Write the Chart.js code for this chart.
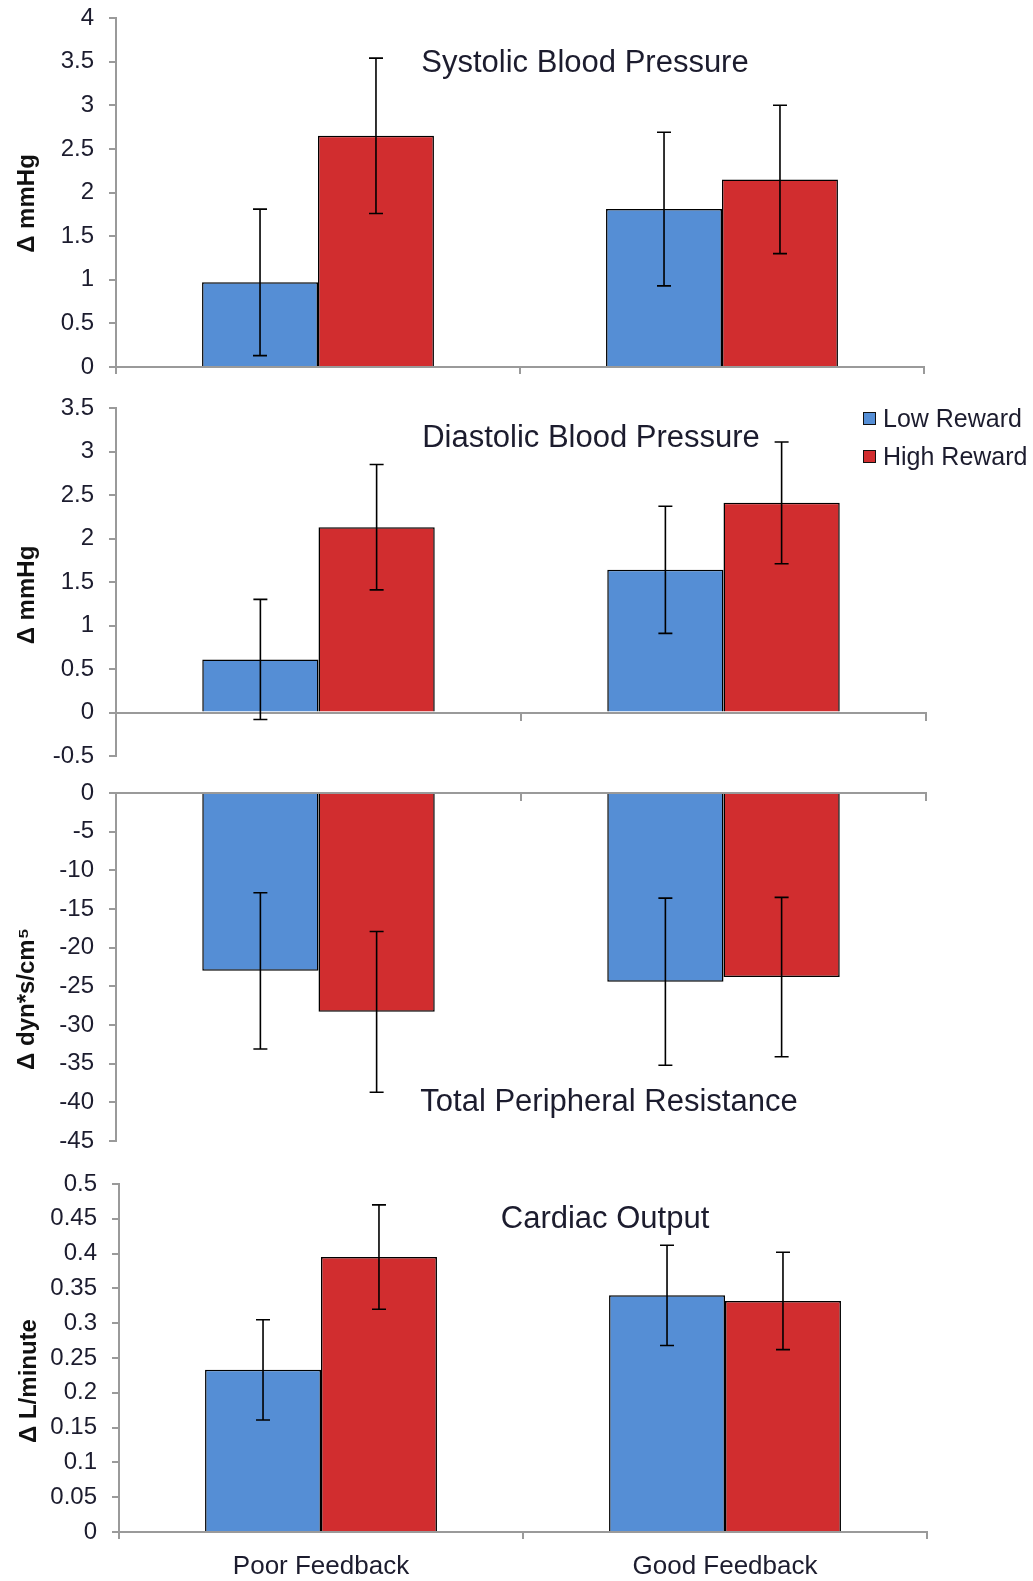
<!DOCTYPE html>
<html lang="en">
<head>
<meta charset="UTF-8" />
<title>Cardiovascular reactivity by feedback and reward</title>
<script src="https://cdn.jsdelivr.net/npm/chart.js"></script>
<style>
  body { margin: 0; background: #fff; font-family: Arial, "Liberation Sans", sans-serif; }
  #page { position: relative; width: 1033px; height: 1581px; overflow: hidden; }
  canvas.panel { position: absolute; left: 0; }
  #legend { position: absolute; left: 863px; top: 399px; font-size: 25px; color: #1c1c2e; }
  #legend .item { display: flex; align-items: center; height: 38px; }
  #legend .swatch { width: 11px; height: 11px; border: 1.5px solid #111; margin-right: 7px; }
</style>
</head>
<body>
<div id="page">
  <canvas class="panel" id="sbp"></canvas>
  <canvas class="panel" id="dbp"></canvas>
  <canvas class="panel" id="tpr"></canvas>
  <canvas class="panel" id="co"></canvas>
  <div id="legend">
    <div class="item"><span class="swatch" style="background:#558ed5"></span>Low Reward</div>
    <div class="item"><span class="swatch" style="background:#d12d2f"></span>High Reward</div>
  </div>
</div>

<script>
  // groups on the x axis
  const categories = ["Poor Feedback", "Good Feedback"];

  // systolic blood pressure, change in mmHg
  const sbpLow = [0.97, 1.81];
  const sbpLowErr = [0.84, 0.88];
  const sbpHigh = [2.65, 2.15];
  const sbpHighErr = [0.89, 0.85];

  // diastolic blood pressure, change in mmHg
  const dbpLow = [0.61, 1.64];
  const dbpLowErr = [0.69, 0.73];
  const dbpHigh = [2.13, 2.41];
  const dbpHighErr = [0.72, 0.70];

  // total peripheral resistance, change in dyn*s/cm5
  const tprLow = [-23.0, -24.4];
  const tprLowErr = [10.1, 10.8];
  const tprHigh = [-28.3, -23.8];
  const tprHighErr = [10.4, 10.3];

  // cardiac output, change in L/minute
  const coLow = [0.233, 0.340];
  const coLowErr = [0.072, 0.072];
  const coHigh = [0.395, 0.332];
  const coHighErr = [0.075, 0.070];

  const FONT = 'Arial, "Liberation Sans", sans-serif';
  const INK = "#1c1c2e";
  const AXIS = "#9a9a9a";
  const EDGE = 32;   // room above/below each plot for the end tick labels

  // whiskers: mean +/- error, drawn over the bars
  const errorBars = {
    id: "errorBars",
    afterDatasetsDraw(chart) {
      const ctx = chart.ctx;
      const y = chart.scales.y;
      ctx.save();
      ctx.strokeStyle = "#000";
      ctx.lineWidth = 1.6;
      chart.data.datasets.forEach((ds, i) => {
        chart.getDatasetMeta(i).data.forEach((bar, j) => {
          const v = ds.data[j], e = ds.errors[j];
          const top = y.getPixelForValue(v + e);
          const bot = y.getPixelForValue(v - e);
          ctx.beginPath();
          ctx.moveTo(bar.x, top); ctx.lineTo(bar.x, bot);
          ctx.moveTo(bar.x - 7, top); ctx.lineTo(bar.x + 7, top);
          ctx.moveTo(bar.x - 7, bot); ctx.lineTo(bar.x + 7, bot);
          ctx.stroke();
        });
      });
      ctx.restore();
    }
  };

  // panel caption inside the plot and the rotated unit label (page coordinates)
  const panelText = {
    id: "panelText",
    afterDraw(chart, args, opts) {
      const ctx = chart.ctx;
      ctx.save();
      ctx.translate(0, -opts.offset);
      ctx.fillStyle = INK;
      ctx.textAlign = "center";
      ctx.textBaseline = "middle";
      ctx.font = "31px " + FONT;
      ctx.fillText(opts.title, opts.titleAt[0], opts.titleAt[1]);
      ctx.translate(opts.unitAt[0], opts.unitAt[1]);
      ctx.rotate(-Math.PI / 2);
      ctx.font = "bold 24px " + FONT;
      ctx.fillStyle = "#111";
      ctx.fillText(opts.unit, 0, 0);
      ctx.restore();
    }
  };

  function makePanel(id, cfg) {
    const canvas = document.getElementById(id);
    const top = cfg.plotTop - EDGE;
    const below = cfg.xHeight || EDGE;
    canvas.width = 1033;
    canvas.height = Math.round(cfg.plotBottom + below - top);
    canvas.style.top = top + "px";

    const xScale = {
      type: "category",
      offset: true,
      position: cfg.axisAtZero ? { y: 0 } : "bottom",
      border: { color: AXIS, width: 2 },
      grid: { offset: true, drawOnChartArea: false, drawTicks: true, tickLength: 7, color: AXIS, lineWidth: 2 },
      ticks: {
        display: !!cfg.showCategories,
        color: INK,
        padding: 12,
        font: { family: FONT, size: 26 }
      }
    };
    if (cfg.xHeight) xScale.afterFit = s => { s.height = cfg.xHeight; };

    new Chart(canvas, {
      type: "bar",
      data: {
        labels: categories,
        datasets: [
          { label: "Low Reward", data: cfg.low, errors: cfg.lowErr, backgroundColor: "#558ed5",
            borderColor: "#000", borderWidth: 1.5 },
          { label: "High Reward", data: cfg.high, errors: cfg.highErr, backgroundColor: "#d12d2f",
            borderColor: "#000", borderWidth: 1.5 }
        ]
      },
      options: {
        responsive: false,
        animation: false,
        layout: {
          padding: {
            top: cfg.plotTop - top,
            bottom: cfg.xHeight ? 0 : EDGE,
            left: 0,
            right: 1033 - cfg.plotRight
          }
        },
        datasets: { bar: { categoryPercentage: 0.574, barPercentage: 1 } },
        plugins: {
          legend: { display: false },
          tooltip: { enabled: false },
          panelText: { offset: top, title: cfg.title, titleAt: cfg.titleAt, unit: cfg.unit, unitAt: cfg.unitAt }
        },
        scales: {
          x: xScale,
          y: {
            min: cfg.min, max: cfg.max,
            afterFit: s => { s.width = cfg.plotLeft; },
            border: { color: AXIS, width: 2 },
            grid: { drawOnChartArea: false, drawTicks: true, tickLength: 7, color: AXIS, lineWidth: 2 },
            ticks: {
              stepSize: cfg.step,
              padding: 15,
              color: INK,
              font: { family: FONT, size: 24 },
              callback: v => String(parseFloat(Number(v).toFixed(3)))
            }
          }
        }
      },
      plugins: [errorBars, panelText]
    });
  }

  makePanel("sbp", {
    low: sbpLow, lowErr: sbpLowErr, high: sbpHigh, highErr: sbpHighErr,
    min: 0, max: 4, step: 0.5,
    plotLeft: 116, plotRight: 924, plotTop: 17.5, plotBottom: 366.5, xHeight: EDGE,
    title: "Systolic Blood Pressure", titleAt: [585, 63],
    unit: "\u0394 mmHg", unitAt: [27, 203]
  });

  makePanel("dbp", {
    low: dbpLow, lowErr: dbpLowErr, high: dbpHigh, highErr: dbpHighErr,
    min: -0.5, max: 3.5, step: 0.5, axisAtZero: true,
    plotLeft: 116, plotRight: 926, plotTop: 408, plotBottom: 756,
    title: "Diastolic Blood Pressure", titleAt: [591, 438],
    unit: "\u0394 mmHg", unitAt: [27, 595]
  });

  makePanel("tpr", {
    low: tprLow, lowErr: tprLowErr, high: tprHigh, highErr: tprHighErr,
    min: -45, max: 0, step: 5, axisAtZero: true,
    plotLeft: 116, plotRight: 926, plotTop: 793, plotBottom: 1141,
    title: "Total Peripheral Resistance", titleAt: [609, 1102],
    unit: "\u0394 dyn*s/cm\u2075", unitAt: [27, 999]
  });

  makePanel("co", {
    low: coLow, lowErr: coLowErr, high: coHigh, highErr: coHighErr,
    min: 0, max: 0.5, step: 0.05, showCategories: true,
    plotLeft: 119, plotRight: 927, plotTop: 1184, plotBottom: 1532, xHeight: 49,
    title: "Cardiac Output", titleAt: [605, 1219],
    unit: "\u0394 L/minute", unitAt: [29, 1381]
  });
</script>
</body>
</html>
